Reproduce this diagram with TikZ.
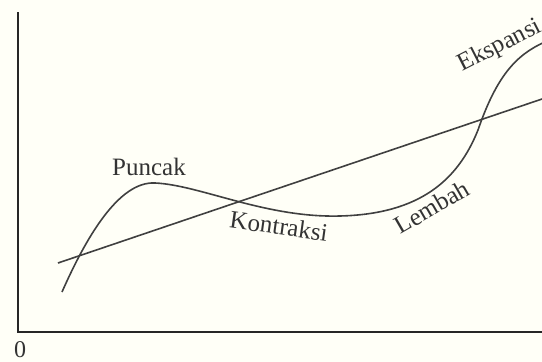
\documentclass[tikz,border=0pt]{standalone}
\usepackage{fontspec}
\setmainfont{Liberation Serif}
\newfontfamily\tnr{Liberation Serif}
\begin{document}
\begin{tikzpicture}[x=1pt,y=-1pt,
  axis/.style={line width=1.7pt,black!85},
  curve/.style={line width=1.6pt,black!75},
  lbl/.style={font=\tnr\fontsize{25}{25}\selectfont,text=black!80,inner sep=0pt}]
\fill[white!97!yellow] (0,0) rectangle (542,362);
\useasboundingbox (0,0) rectangle (542,362);
\coordinate (top) at (18,12);
\coordinate (origin) at (18,332);
\coordinate (right) at (542,332);
\draw[axis] (top) -- (origin) -- (right);
\node[lbl,font=\tnr\fontsize{24}{24}\selectfont] (zero) at (20,350) {0};
\coordinate (ls) at (58,263);
\coordinate (le) at (542,99);
\draw[curve] (ls) -- (le);
\coordinate (c0) at (62,292);
\coordinate (c1) at (155,183);
\coordinate (c2) at (340,216);
\coordinate (c3) at (478,130);
\coordinate (c4) at (545,42);
\draw[curve] (c0) .. controls (85,240) and (118,181) .. (c1)
  .. controls (200,185) and (265,218) .. (c2)
  .. controls (420,214) and (458,180) .. (c3)
  .. controls (496,78) and (515,55) .. (c4);
\node[lbl] (puncak) at (149,167) {Puncak};
\node[lbl,rotate=-8] (kontraksi) at (279,226) {Kontraksi};
\node[lbl,rotate=30] (lembah) at (432,207) {Lembah};
\node[lbl,rotate=27] (ekspansi) at (500,46) {Ekspansi};
\end{tikzpicture}
\end{document}
